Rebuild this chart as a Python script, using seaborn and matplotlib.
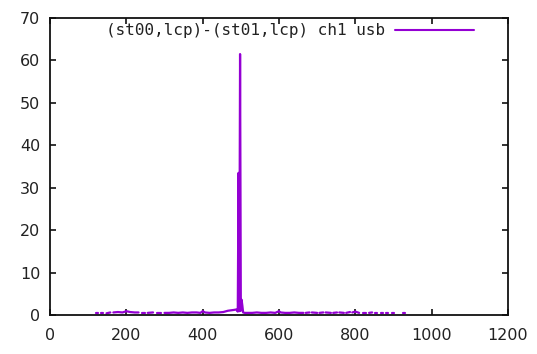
import numpy as np
import pandas as pd
import matplotlib
matplotlib.use("Agg")
import matplotlib.pyplot as plt
from matplotlib.lines import Line2D
import seaborn as sns

# Cross-power amplitude per channel, one list per contiguous run of valid channels
segments = [
    ([120, 126], [0.4, 0.4]),
    ([134, 140], [0.5, 0.5]),
    ([148, 158], [0.4, 0.6]),
    ([166, 178, 190, 200, 210, 222, 232], [0.6, 0.7, 0.6, 0.9, 0.7, 0.6, 0.6]),
    ([240, 250], [0.5, 0.5]),
    ([256, 270], [0.5, 0.6]),
    ([280, 292], [0.5, 0.5]),
    ([300, 312, 324, 336, 348, 360, 372, 384, 394, 400, 406, 418, 430, 442,
      454, 466, 474, 482, 488, 492, 494, 496, 498, 500, 502, 504, 506, 510,
      518, 530, 542, 554, 566, 578, 590, 600, 604, 616, 628, 640, 652, 664],
     [0.5, 0.5, 0.6, 0.5, 0.6, 0.5, 0.6, 0.6, 0.5, 0.9, 0.6, 0.5, 0.6, 0.6,
      0.7, 1.0, 1.1, 1.2, 1.3, 0.8, 33.5, 0.9, 61.5, 1.0, 3.6, 2.2, 0.6, 0.5,
      0.5, 0.5, 0.6, 0.5, 0.5, 0.6, 0.5, 0.9, 0.6, 0.5, 0.5, 0.6, 0.5, 0.5]),
    ([670, 680], [0.5, 0.6]),
    ([686, 700], [0.6, 0.5]),
    ([706, 716], [0.5, 0.6]),
    ([722, 736], [0.6, 0.5]),
    ([742, 752], [0.5, 0.6]),
    ([758, 770], [0.6, 0.5]),
    ([776, 786], [0.5, 0.7]),
    ([792, 800, 810], [0.6, 0.8, 0.5]),
    ([820, 828], [0.5, 0.5]),
    ([836, 844], [0.5, 0.6]),
    ([852, 858], [0.5, 0.5]),
    ([866, 872], [0.5, 0.5]),
    ([880, 886], [0.5, 0.5]),
    ([896, 900], [0.5, 0.5]),
    ([926, 930], [0.5, 0.5]),
]

series_label = "(st00,lcp)-(st01,lcp) ch1 usb"
x_ticks = [0, 200, 400, 600, 800, 1000, 1200]
y_ticks = [0, 10, 20, 30, 40, 50, 60, 70]

rows = []
for seg_id, (chans, amps) in enumerate(segments):
    for c, a in zip(chans, amps):
        rows.append({"channel": c, "amplitude": a, "run": seg_id})
df = pd.DataFrame(rows)

sns.set_style("ticks")
plt.rcParams["font.family"] = ["DejaVu Sans"]

line_color = "#9400D3"

fig = plt.figure(figsize=(5.37, 3.54), dpi=100)
ax = fig.add_axes([50 / 537, 39 / 354, 458 / 537, 297 / 354])

sns.lineplot(data=df, x="channel", y="amplitude", units="run", estimator=None,
             color=line_color, linewidth=1.6, ax=ax, legend=False)

ax.set_xlim(0, 1200)
ax.set_ylim(0, 70)
ax.set_xticks(x_ticks)
ax.set_yticks(y_ticks)
ax.set_xlabel("")
ax.set_ylabel("")

for side in ["left", "right", "top", "bottom"]:
    ax.spines[side].set_visible(True)
    ax.spines[side].set_color("#111111")
    ax.spines[side].set_linewidth(1.3)

ax.tick_params(axis="both", which="both", direction="in", length=4, width=1.2,
               top=True, right=True, labelsize=11.5, labelcolor="#222222",
               color="#111111")
ax.tick_params(axis="x", pad=9)
ax.tick_params(axis="y", pad=7)

handle = Line2D([], [], color=line_color, linewidth=1.5)
leg = ax.legend([handle], [series_label], loc="upper right", frameon=False,
                markerfirst=False, handlelength=5.0, handletextpad=0.6,
                bbox_to_anchor=(0.958, 1.03),
                prop={"family": "DejaVu Sans Mono", "size": 11.5})
for t in leg.get_texts():
    t.set_color("#222222")

fig.savefig("out.png", dpi=100)
